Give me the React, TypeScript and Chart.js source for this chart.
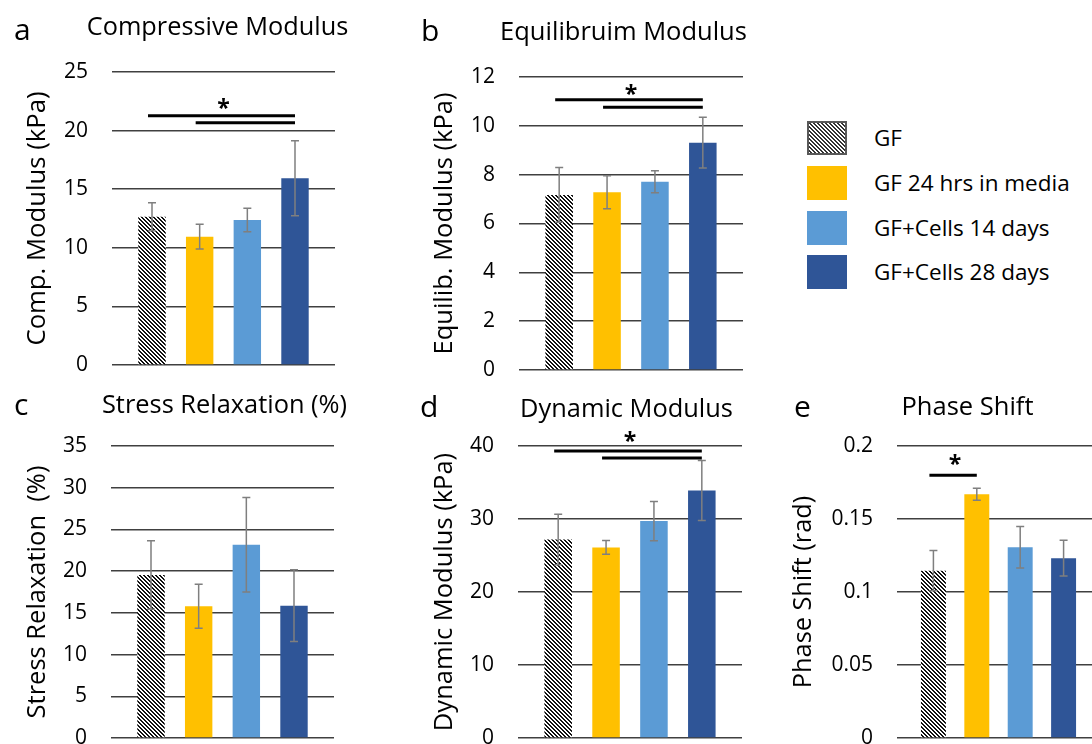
import React, { useEffect, useMemo, useRef } from "react";
import { Chart, registerables } from "chart.js";

Chart.register(...registerables);

// ---------- data ----------
const seriesNames = ["GF", "GF 24 hrs in media", "GF+Cells 14 days", "GF+Cells 28 days"];

// a: Compressive Modulus
const compValues = [12.65, 10.95, 12.37, 15.93];
const compErrors = [1.2, 1.05, 1.0, 3.2];
const compTicks = [0, 5, 10, 15, 20, 25];
const compBrackets = [[0, 3, 21.27], [1, 3, 20.67]];
const compStar = 22.47;

// b: Equilibrium Modulus
const equilValues = [7.17, 7.28, 7.71, 9.31];
const equilErrors = [1.12, 0.68, 0.45, 1.04];
const equilTicks = [0, 2, 4, 6, 8, 10, 12];
const equilBrackets = [[0, 3, 11.07], [1, 3, 10.76]];
const equilStar = 11.53;

// c: Stress Relaxation
const relaxValues = [19.53, 15.79, 23.16, 15.86];
const relaxErrors = [4.1, 2.65, 5.67, 4.3];
const relaxTicks = [0, 5, 10, 15, 20, 25, 30, 35];
const relaxBrackets: number[][] = [];
const relaxStar: number | null = null;

// d: Dynamic Modulus
const dynValues = [27.2, 26.11, 29.71, 33.9];
const dynErrors = [3.45, 0.95, 2.7, 4.1];
const dynTicks = [0, 10, 20, 30, 40];
const dynBrackets = [[0, 3, 39.3], [1, 3, 38.36]];
const dynStar = 41.46;

// e: Phase Shift
const phaseValues = [0.1146, 0.167, 0.1306, 0.1232];
const phaseErrors = [0.0138, 0.0041, 0.0142, 0.0123];
const phaseTicks = [0, 0.05, 0.1, 0.15, 0.2];
const phaseBrackets = [[0, 1, 0.18]];
const phaseStar = 0.192;

// ---------- styles ----------
const FONT = "'Open Sans', sans-serif";
const seriesColors = ["hatch", "#FFC000", "#5B9BD5", "#2F5597"];
const GRID_COLOR = "#404040";
const ERR_COLOR = "#7f7f7f";
const PAD_R = 30;
const PAD_B = 42;

type Box = {
  left: number; top: number;
  plotLeft: number; plotTop: number; plotRight: number; plotBottom: number;
  yTitleX: number; yTitleLen: number;
  titleX: number; titleBase: number; titleLen: number;
  letterX: number; letterBase: number;
};

type Panel = {
  letter: string; title: string; yTitle: string;
  values: number[]; errors: number[]; ticks: number[];
  brackets: number[][]; star: number | null; box: Box;
};

const panels: Panel[] = [
  {
    letter: "a", title: "Compressive Modulus", yTitle: "Comp. Modulus (kPa)",
    values: compValues, errors: compErrors, ticks: compTicks, brackets: compBrackets, star: compStar,
    box: { left: 0, top: 0, plotLeft: 112, plotTop: 72, plotRight: 335, plotBottom: 365,
      yTitleX: 37.5, yTitleLen: 254, titleX: 217.5, titleBase: 34.5, titleLen: 261, letterX: 14, letterBase: 40 },
  },
  {
    letter: "b", title: "Equilibruim Modulus", yTitle: "Equilib. Modulus (kPa)",
    values: equilValues, errors: equilErrors, ticks: equilTicks, brackets: equilBrackets, star: equilStar,
    box: { left: 400, top: 0, plotLeft: 519, plotTop: 77, plotRight: 743, plotBottom: 370,
      yTitleX: 445, yTitleLen: 262, titleX: 623.5, titleBase: 39.5, titleLen: 247, letterX: 421, letterBase: 41 },
  },
  {
    letter: "c", title: "Stress Relaxation (%)", yTitle: "Stress Relaxation  (%)",
    values: relaxValues, errors: relaxErrors, ticks: relaxTicks, brackets: relaxBrackets, star: relaxStar,
    box: { left: 0, top: 380, plotLeft: 111, plotTop: 446, plotRight: 334, plotBottom: 738,
      yTitleX: 38, yTitleLen: 253, titleX: 224.5, titleBase: 412.5, titleLen: 245, letterX: 14, letterBase: 415 },
  },
  {
    letter: "d", title: "Dynamic Modulus", yTitle: "Dynamic Modulus (kPa)",
    values: dynValues, errors: dynErrors, ticks: dynTicks, brackets: dynBrackets, star: dynStar,
    box: { left: 400, top: 380, plotLeft: 518, plotTop: 446, plotRight: 742, plotBottom: 738,
      yTitleX: 445, yTitleLen: 278, titleX: 626.5, titleBase: 416.5, titleLen: 213, letterX: 420, letterBase: 416.5 },
  },
  {
    letter: "e", title: "Phase Shift", yTitle: "Phase Shift (rad)",
    values: phaseValues, errors: phaseErrors, ticks: phaseTicks, brackets: phaseBrackets, star: phaseStar,
    box: { left: 770, top: 380, plotLeft: 897, plotTop: 446, plotRight: 1100, plotBottom: 738,
      yTitleX: 804, yTitleLen: 192, titleX: 967.5, titleBase: 415, titleLen: 132, letterX: 794, letterBase: 417 },
  },
];

function makeHatchTile(dark: string, light: string): HTMLCanvasElement {
  const c = document.createElement("canvas");
  c.width = 4;
  c.height = 4;
  const ctx = c.getContext("2d")!;
  ctx.fillStyle = light;
  ctx.fillRect(0, 0, 4, 4);
  ctx.fillStyle = dark;
  for (let y = 0; y < 4; y++) {
    for (let x = 0; x < 4; x++) {
      if ((((x - y) % 4) + 4) % 4 < 2) ctx.fillRect(x, y, 1, 1);
    }
  }
  return c;
}

// font size (px) so that `text` is `target` px long
function fitSize(ctx: CanvasRenderingContext2D, text: string, target: number): number {
  ctx.save();
  ctx.font = `100px ${FONT}`;
  const w = ctx.measureText(text).width;
  ctx.restore();
  return Math.round((100 * target) / w * 10) / 10;
}

function PanelChart({ panel }: { panel: Panel }) {
  const ref = useRef<HTMLCanvasElement>(null);
  const b = panel.box;
  const W = b.plotRight + PAD_R - b.left;
  const H = b.plotBottom + PAD_B - b.top;

  useEffect(() => {
    const canvas = ref.current!;
    const ctx = canvas.getContext("2d")!;
    const hatch = ctx.createPattern(makeHatchTile("#111111", "#ffffff"), "repeat");

    const datasets = seriesNames.map((name, i) => ({
      label: name,
      data: [panel.values[i]],
      backgroundColor: seriesColors[i] === "hatch" ? (hatch as any) : seriesColors[i],
      borderWidth: 0,
      categoryPercentage: 0.855,
      barPercentage: 0.575,
    }));

    const tickMin = panel.ticks[0];
    const tickMax = panel.ticks[panel.ticks.length - 1];
    const yTitleSize = fitSize(ctx, panel.yTitle, b.yTitleLen);
    const titleSize = fitSize(ctx, panel.title, b.titleLen);

    const errorBarPlugin = {
      id: "errorBars",
      afterDatasetsDraw(chart: any) {
        const c = chart.ctx;
        const ys = chart.scales.y;
        c.save();
        c.strokeStyle = ERR_COLOR;
        c.lineWidth = 1.5;
        chart.data.datasets.forEach((ds: any, i: number) => {
          const el = chart.getDatasetMeta(i).data[0];
          const v = ds.data[0];
          const e = panel.errors[i];
          const x = el.x;
          const yHi = ys.getPixelForValue(v + e);
          const yLo = ys.getPixelForValue(v - e);
          c.beginPath();
          c.moveTo(x, yLo);
          c.lineTo(x, yHi);
          c.moveTo(x - 4, yHi);
          c.lineTo(x + 4, yHi);
          c.moveTo(x - 4, yLo);
          c.lineTo(x + 4, yLo);
          c.stroke();
        });
        c.restore();
      },
    };

    const sigPlugin = {
      id: "significance",
      afterDraw(chart: any) {
        if (!panel.brackets.length) return;
        const c = chart.ctx;
        const ys = chart.scales.y;
        c.save();
        c.strokeStyle = "#000";
        c.lineWidth = 3;
        panel.brackets.forEach(([i, j, v]) => {
          const x1 = chart.getDatasetMeta(i).data[0].x;
          const x2 = chart.getDatasetMeta(j).data[0].x;
          const yy = ys.getPixelForValue(v);
          c.beginPath();
          c.moveTo(x1 - 4, yy);
          c.lineTo(x2, yy);
          c.stroke();
        });
        if (panel.star !== null) {
          const [i, j] = panel.brackets[0];
          const x1 = chart.getDatasetMeta(i).data[0].x;
          const x2 = chart.getDatasetMeta(j).data[0].x;
          const yy = ys.getPixelForValue(panel.star);
          c.fillStyle = "#000";
          c.font = `bold 23px ${FONT}`;
          c.textAlign = "center";
          c.textBaseline = "alphabetic";
          c.fillText("*", (x1 + x2) / 2, yy + 14);
        }
        c.restore();
      },
    };

    const textPlugin = {
      id: "panelText",
      afterDraw(chart: any) {
        const c = chart.ctx;
        c.save();
        c.fillStyle = "#000";
        c.textBaseline = "alphabetic";
        c.font = `${titleSize}px ${FONT}`;
        c.textAlign = "center";
        c.fillText(panel.title, b.titleX - b.left, b.titleBase - b.top);
        c.font = `30px ${FONT}`;
        c.textAlign = "left";
        c.fillText(panel.letter, b.letterX - b.left, b.letterBase - b.top);
        c.restore();
      },
    };

    const chart = new Chart(canvas, {
      type: "bar",
      data: { labels: [""], datasets },
      options: {
        animation: false,
        responsive: false,
        maintainAspectRatio: false,
        layout: { padding: { left: 0, top: b.plotTop - b.top, right: PAD_R, bottom: PAD_B } },
        plugins: { legend: { display: false }, tooltip: { enabled: false }, title: { display: false } },
        scales: {
          x: { display: false },
          y: {
            min: tickMin,
            max: tickMax,
            afterBuildTicks: (s: any) => {
              s.ticks = panel.ticks.map((v) => ({ value: v }));
            },
            afterFit: (s: any) => {
              s.width = b.plotLeft - b.left;
            },
            ticks: {
              padding: 24,
              color: "#000",
              font: { family: FONT, size: 21 },
              callback: (v: any) => String(Number(Number(v).toFixed(6))),
            },
            grid: { color: GRID_COLOR, lineWidth: 1.5, drawTicks: false },
            border: { display: false },
            title: {
              display: true,
              text: panel.yTitle,
              color: "#000",
              font: { family: FONT, size: yTitleSize },
              padding: { top: b.yTitleX - b.left - (yTitleSize * 1.2) / 2, bottom: 0 },
            },
          },
        },
      },
      plugins: [errorBarPlugin, sigPlugin, textPlugin],
    } as any);

    return () => chart.destroy();
  }, [panel]);

  return (
    <canvas
      ref={ref}
      width={W}
      height={H}
      style={{ position: "absolute", left: b.left, top: b.top, width: W, height: H }}
    />
  );
}

function Legend() {
  const hatchUrl = useMemo(() => makeHatchTile("#333333", "#ffffff").toDataURL(), []);
  return (
    <>
      {seriesNames.map((name, i) => {
        const top = 121 + i * 44.8;
        const isHatch = seriesColors[i] === "hatch";
        return (
          <React.Fragment key={name}>
            <div
              style={{
                position: "absolute",
                left: 807,
                top,
                width: 40,
                height: 34,
                boxSizing: "border-box",
                background: isHatch ? `url(${hatchUrl}) repeat` : seriesColors[i],
                border: isHatch ? "2px solid #595959" : "none",
              }}
            />
            <div
              style={{
                position: "absolute",
                left: 874,
                top,
                height: 34,
                lineHeight: "34px",
                fontFamily: FONT,
                fontSize: 22.5,
                color: "#000",
                whiteSpace: "nowrap",
              }}
            >
              {name}
            </div>
          </React.Fragment>
        );
      })}
    </>
  );
}

export default function App() {
  return (
    <div
      style={{
        position: "absolute",
        left: 0,
        top: 0,
        width: 1092,
        height: 744,
        overflow: "hidden",
        background: "#fff",
      }}
    >
      {panels.map((p) => (
        <PanelChart key={p.letter} panel={p} />
      ))}
      <Legend />
    </div>
  );
}
